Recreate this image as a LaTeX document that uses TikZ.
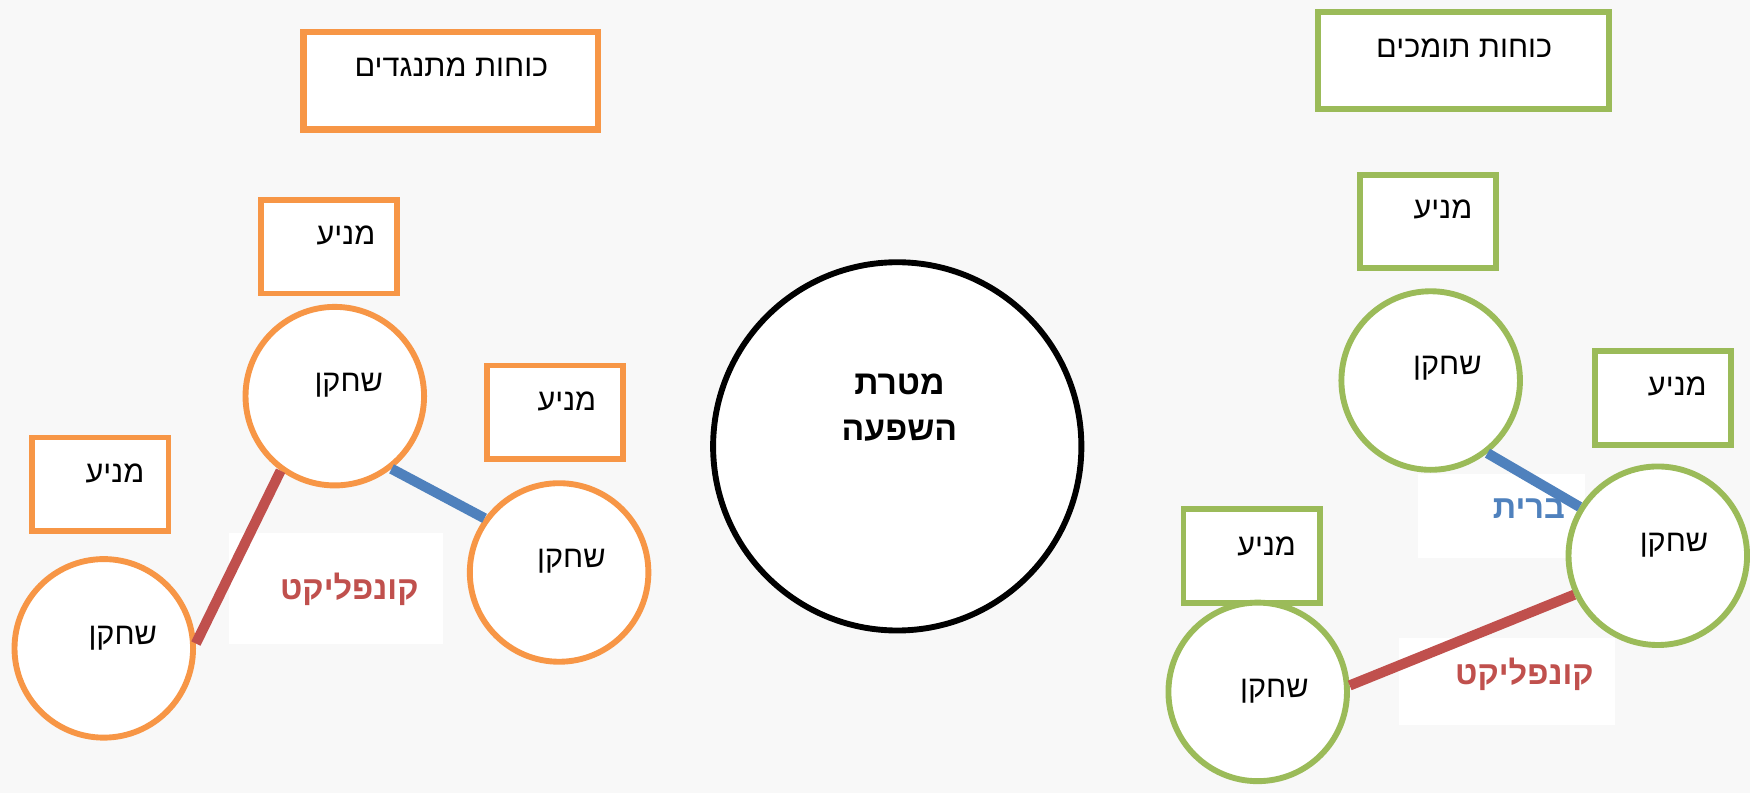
\documentclass[tikz,border=0pt]{standalone}
\usepackage{fontspec}
\setmainfont{Liberation Sans}
\newfontfamily\hebfont[Script=Hebrew]{Liberation Sans}
\TeXXeTstate=1
\newcommand{\rtl}[1]{\beginR #1\endR}
\definecolor{orng}{HTML}{F79646}
\definecolor{grn}{HTML}{9BBB59}
\definecolor{blu}{HTML}{4F81BD}
\definecolor{rd}{HTML}{C0504D}
\definecolor{bgc}{HTML}{F8F8F8}
\begin{document}
\begin{tikzpicture}[
  motive/.style={draw, line width=1.5pt, fill=white, inner sep=0, minimum width=1.22cm, minimum height=0.84cm},
  title/.style={draw, line width=1.6pt, fill=white, inner sep=0, minimum height=0.87cm},
  player/.style={circle, draw, line width=1.5pt, fill=white, inner sep=0, minimum size=1.6cm},
  tag/.style={fill=white, inner sep=0},
  txt/.style={font=\hebfont\fontsize{7.8}{10}\selectfont, inner sep=0},
  bold/.style={font=\hebfont\bfseries\fontsize{8.3}{10}\selectfont, inner sep=0},
  alliance/.style={draw=blu, line width=2.6pt},
  conflict/.style={draw=rd, line width=2.6pt}]
 \fill[bgc] (0,0) rectangle (15.68,7.11);
 % opposing side
 \node[title, draw=orng, minimum width=2.64cm] (oT) at (4.04,6.385) {};
 \node[txt] (oTt) at (4.045,6.51) {\rtl{כוחות מתנגדים}};
 \node[motive, draw=orng] (oM1) at (2.95,4.90) {};
 \node[motive, draw=orng] (oM2) at (4.975,3.415) {};
 \node[motive, draw=orng] (oM3) at (0.90,2.77) {};
 \node[txt] (oM1t) at (3.10,5.00) {\rtl{מניע}};
 \node[txt] (oM2t) at (5.08,3.51) {\rtl{מניע}};
 \node[txt] (oM3t) at (1.03,2.87) {\rtl{מניע}};
 \node[tag, minimum width=1.92cm, minimum height=0.99cm] (oL) at (3.01,1.835) {};
 \node[bold, text=rd] (oLt) at (3.13,1.83) {\rtl{קונפליקט}};
 \node[player, draw=orng] (oP1) at (3.00,3.56) {};
 \node[player, draw=orng] (oP2) at (5.01,1.98) {};
 \node[player, draw=orng] (oP3) at (0.93,1.30) {};
 \node[txt] (oP1t) at (3.125,3.66) {\rtl{שחקן}};
 \node[txt] (oP2t) at (5.12,2.08) {\rtl{שחקן}};
 \node[txt] (oP3t) at (1.10,1.39) {\rtl{שחקן}};
 \path (oP1.234) edge[conflict] (oP3.3);
 \path (oP1.308) edge[alliance] (oP2.144);
 % goal
 \node[circle, draw, line width=1.5pt, fill=white, minimum size=3.3cm] (goal) at (8.04,3.11) {};
 \node[bold, align=center, font=\hebfont\bfseries\fontsize{8.6}{11.7}\selectfont] (goalt) at (8.06,3.46) {\rtl{מטרת}\\\rtl{השפעה}};
 % supporting side
 \node[title, draw=grn, minimum width=2.61cm] (gT) at (13.115,6.57) {};
 \node[txt] (gTt) at (13.12,6.68) {\rtl{כוחות תומכים}};
 \node[motive, draw=grn] (gM1) at (12.795,5.125) {};
 \node[motive, draw=grn] (gM2) at (14.90,3.545) {};
 \node[motive, draw=grn] (gM3) at (11.215,2.13) {};
 \node[txt] (gM1t) at (12.93,5.23) {\rtl{מניע}};
 \node[txt] (gM2t) at (15.03,3.65) {\rtl{מניע}};
 \node[txt] (gM3t) at (11.35,2.21) {\rtl{מניע}};
 \node[tag, minimum width=1.49cm, minimum height=0.75cm] (gL1) at (13.455,2.485) {};
 \node[bold, text=blu] (gL1t) at (13.70,2.55) {\rtl{ברית}};
 \node[tag, minimum width=1.93cm, minimum height=0.78cm] (gL2) at (13.505,1.00) {};
 \node[bold, text=rd] (gL2t) at (13.66,1.07) {\rtl{קונפליקט}};
 \node[player, draw=grn] (gP1) at (12.82,3.70) {};
 \node[player, draw=grn] (gP2) at (14.855,2.13) {};
 \node[player, draw=grn] (gP3) at (11.27,0.91) {};
 \node[txt] (gP1t) at (12.97,3.81) {\rtl{שחקן}};
 \node[txt] (gP2t) at (15.00,2.22) {\rtl{שחקן}};
 \node[txt] (gP3t) at (11.42,0.92) {\rtl{שחקן}};
 \path (gP1.308) edge[alliance] (gP2.148);
 \path (gP3.4) edge[conflict] (gP2.205);
\end{tikzpicture}
\end{document}
